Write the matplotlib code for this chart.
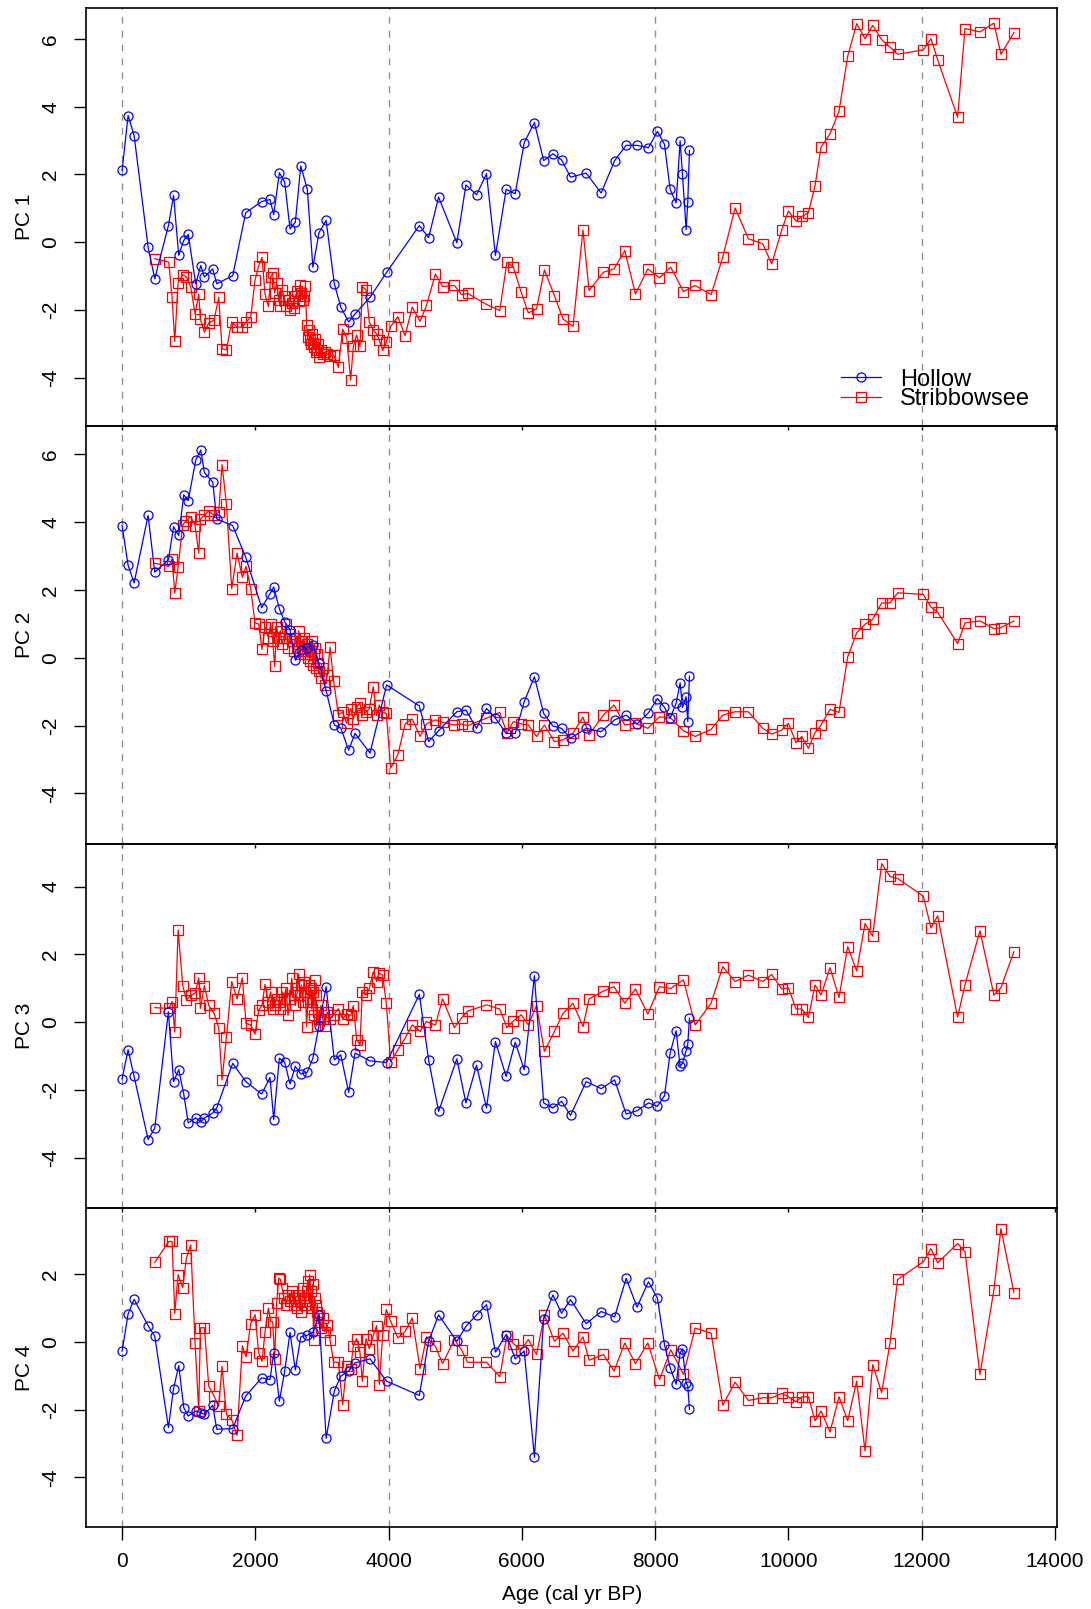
import matplotlib
matplotlib.use("Agg")
import matplotlib.pyplot as plt

plt.rcParams['font.family'] = ['Liberation Sans', 'DejaVu Sans']
plt.rcParams['axes.unicode_minus'] = False

# sample ages (cal yr BP)
hollow_age = [0, 90, 180, 390, 490, 695, 772, 850, 925, 992,
              1105, 1180, 1235, 1360, 1420, 1660, 1855, 2095, 2220, 2275,
              2360, 2440, 2520, 2600, 2681, 2780, 2863, 2955, 3062, 3185,
              3282, 3400, 3496, 3721, 3970, 4461, 4600, 4750, 5024, 5160,
              5319, 5469, 5603, 5764, 5900, 6035, 6188, 6327, 6465, 6595,
              6730, 6965, 7190, 7392, 7565, 7728, 7900, 8035, 8140, 8225,
              8315, 8375, 8410, 8465, 8490, 8515]

strib_age = [490, 700, 750, 790, 840, 910, 965, 1030, 1095, 1150,
             1175, 1235, 1300, 1380, 1450, 1500, 1565, 1645, 1725, 1805,
             1860, 1930, 1995, 2050, 2100, 2145, 2195, 2230, 2260, 2290,
             2320, 2350, 2375, 2400, 2430, 2460, 2490, 2520, 2545, 2575,
             2600, 2630, 2650, 2670, 2690, 2710, 2730, 2750, 2770, 2785,
             2800, 2815, 2830, 2845, 2860, 2875, 2890, 2905, 2920, 2940,
             2960, 2985, 3010, 3040, 3080, 3120, 3175, 3245, 3310, 3370,
             3430, 3470, 3520, 3570, 3605, 3660, 3710, 3770, 3820, 3860,
             3910, 3965,
             4030, 4139, 4247, 4354, 4472, 4568, 4702, 4810, 4987, 5094,
             5185, 5469, 5668, 5775, 5872, 5990, 6097, 6220, 6338, 6488,
             6617, 6767, 6917, 7008, 7223, 7383, 7544, 7705, 7890, 8065,
             8235, 8425, 8600, 8840, 9015, 9200, 9400, 9615, 9750, 9900,
             10000, 10115, 10200, 10300, 10400, 10490, 10625, 10760, 10890, 11025,
             11150, 11265, 11400, 11525, 11640, 12025, 12140, 12240, 12540, 12650,
             12875, 13085, 13190, 13385]

# Hollow PC scores
hollow_pc1 = [2.12, 3.74, 3.15, -0.15, -1.08, 0.49, 1.38, -0.39, 0.05, 0.23,
              -1.23, -0.69, -1.03, -0.79, -1.23, -0.99, 0.87, 1.20, 1.26, 0.81,
              2.05, 1.77, 0.39, 0.59, 2.25, 1.56, -0.74, 0.28, 0.64, -1.23,
              -1.92, -2.36, -2.12, -1.63, -0.89, 0.49, 0.13, 1.33, -0.02, 1.69,
              1.40, 2.02, -0.39, 1.56, 1.43, 2.94, 3.53, 2.41, 2.61, 2.43,
              1.92, 2.04, 1.45, 2.41, 2.86, 2.86, 2.79, 3.27, 2.89, 1.56,
              1.16, 2.99, 2.02, 0.37, 1.18, 2.71]
hollow_pc2 = [3.90, 2.73, 2.21, 4.20, 2.53, 2.89, 3.87, 3.61, 4.81, 4.64,
              5.83, 6.13, 5.47, 5.18, 4.10, 3.90, 2.97, 1.48, 1.89, 2.09,
              1.45, 1.06, 0.83, -0.07, 0.23, 0.29, 0.38, -0.16, -0.97, -1.98,
              -2.07, -2.72, -2.23, -2.81, -0.80, -1.42, -2.47, -2.15, -1.59, -1.54,
              -2.08, -1.49, -1.78, -2.23, -2.23, -1.29, -0.56, -1.64, -2.01, -2.08,
              -2.37, -2.08, -2.18, -1.83, -1.69, -1.95, -1.62, -1.20, -1.46, -1.78,
              -1.34, -0.74, -1.46, -1.15, -1.88, -0.54]
hollow_pc3 = [-1.67, -0.81, -1.60, -3.46, -3.12, 0.31, -1.75, -1.40, -2.12, -2.97,
              -2.82, -2.94, -2.82, -2.68, -2.53, -1.21, -1.75, -2.12, -1.63, -2.87,
              -1.06, -1.18, -1.82, -1.30, -1.53, -1.47, -1.06, -0.10, 1.05, -1.11,
              -0.96, -2.07, -0.91, -1.14, -1.19, 0.82, -1.11, -2.63, -1.08, -2.38,
              -1.27, -2.53, -0.57, -1.60, -0.59, -1.40, 1.37, -2.38, -2.53, -2.33,
              -2.75, -1.75, -1.96, -1.70, -2.71, -2.61, -2.38, -2.48, -2.17, -0.91,
              -0.25, -1.30, -1.21, -0.84, -0.65, 0.12]
hollow_pc4 = [-0.27, 0.83, 1.26, 0.48, 0.17, -2.53, -1.38, -0.70, -1.94, -2.19,
              -2.04, -2.09, -2.14, -1.87, -2.58, -2.56, -1.60, -1.06, -1.11, -0.32,
              -1.75, -0.86, 0.28, -0.83, 0.15, 0.20, 0.28, 0.80, -2.85, -1.45,
              -1.01, -0.86, -0.62, -0.50, -1.16, -1.58, 0.02, 0.80, 0.02, 0.46,
              0.80, 1.10, -0.30, 0.22, -0.50, -0.27, -3.41, 0.68, 1.39, 0.85,
              1.25, 0.54, 0.90, 0.74, 1.88, 1.03, 1.78, 1.29, -0.08, -0.76,
              -1.25, -0.32, -0.21, -1.21, -1.30, -1.99]

# Stribbowsee PC scores
strib_pc1 = [-0.49, -0.59, -1.63, -2.93, -1.21, -0.96, -1.03, -1.33, -2.12, -1.53,
             -2.27, -2.66, -2.39, -2.30, -1.63, -3.15, -3.18, -2.36, -2.51, -2.51,
             -2.36, -2.22, -1.12, -0.70, -0.45, -1.53, -1.90, -1.02, -0.92, -1.50,
             -1.20, -1.70, -1.90, -1.40, -1.60, -1.90, -1.70, -2.00, -1.80, -1.95,
             -1.60, -1.45, -1.75, -1.26, -1.50, -1.70, -1.60, -1.30, -2.45, -2.80,
             -2.60, -2.90, -3.00, -2.70, -2.99, -3.10, -2.85, -3.25, -3.18, -3.00,
             -3.38, -3.20, -3.30, -3.25, -3.30, -3.35, -3.33, -3.70, -2.57, -2.83,
             -4.07, -3.08, -2.74, -3.08, -1.31, -1.40, -2.36, -2.60, -2.71, -2.90,
             -3.20, -2.96,
             -2.49, -2.20, -2.76, -1.92, -2.34, -1.87, -0.94, -1.31, -1.28, -1.55,
             -1.51, -1.84, -2.02, -0.59, -0.74, -1.48, -2.09, -1.97, -0.82, -1.58,
             -2.27, -2.49, 0.36, -1.43, -0.89, -0.79, -0.25, -1.53, -0.79, -1.05,
             -0.74, -1.46, -1.28, -1.55, -0.44, 1.01, 0.10, -0.05, -0.64, 0.36,
             0.92, 0.62, 0.76, 0.87, 1.67, 2.81, 3.20, 3.87, 5.49, 6.45,
             6.01, 6.40, 5.98, 5.76, 5.55, 5.68, 6.01, 5.39, 3.69, 6.31,
             6.21, 6.47, 5.55, 6.19]
strib_pc2 = [2.79, 2.70, 2.92, 1.91, 2.68, 3.93, 4.05, 4.17, 3.90, 3.09,
             4.10, 4.20, 4.34, 4.20, 4.30, 5.70, 4.54, 2.04, 3.09, 2.38,
             2.70, 2.04, 1.03, 1.00, 0.25, 0.90, 0.60, 1.00, 0.50, -0.25,
             0.90, 0.60, 0.80, 0.40, 0.60, 1.00, 0.30, 0.70, 0.50, 0.20,
             0.60, 0.30, 0.80, 0.10, 0.50, 0.20, 0.60, 0.10, 0.40, 0.00,
             0.30, -0.10, 0.20, 0.50, -0.20, 0.10, 0.30, -0.30, 0.10, -0.16,
             -0.40, -0.60, -0.30, -0.80, -0.50, 0.32, -0.68, -1.68, -1.60, -1.93,
             -1.50, -1.80, -1.45, -1.34, -1.70, -1.60, -1.50, -0.85, -1.70, -1.39,
             -1.60, -1.64,
             -3.25, -2.86, -1.95, -1.80, -2.32, -1.95, -1.83, -1.90, -1.98, -1.95,
             -2.00, -1.78, -1.61, -2.22, -1.88, -1.95, -1.98, -2.32, -1.98, -2.47,
             -2.42, -2.22, -1.75, -2.27, -1.69, -1.39, -1.98, -1.93, -2.08, -1.74,
             -1.78, -2.15, -2.32, -2.11, -1.69, -1.59, -1.59, -2.08, -2.25, -2.13,
             -1.93, -2.50, -2.32, -2.67, -2.21, -1.98, -1.52, -1.61, 0.03, 0.74,
             0.99, 1.14, 1.62, 1.62, 1.92, 1.87, 1.50, 1.35, 0.42, 1.03,
             1.09, 0.86, 0.89, 1.09]
strib_pc3 = [0.43, 0.41, 0.61, -0.29, 2.72, 1.08, 0.66, 0.80, 0.85, 1.31,
             0.41, 1.08, 0.50, 0.26, -0.16, -1.70, -0.45, 1.20, 0.69, 1.31,
             -0.03, -0.08, -0.35, 0.36, 0.50, 1.12, 0.60, 0.90, 0.40, 0.50,
             0.70, 0.60, 0.40, 0.90, 0.70, 1.00, 0.20, 0.70, 1.30, 0.80,
             0.50, 0.90, 1.42, 0.80, 1.10, 0.60, 1.20, 0.90, -0.13, 0.60,
             1.10, 0.70, 1.00, 0.40, 0.90, 0.20, 1.24, 0.80, -0.10, 0.30,
             0.10, 0.50, 0.10, -0.10, 0.30, 0.10, 0.22, 0.40, 0.10, 0.25,
             0.20, 0.49, -0.51, -0.67, 0.90, 0.80, 1.00, 1.49, 1.20, 1.45,
             1.39, 0.56,
             -1.16, -0.81, -0.47, -0.08, -0.27, 0.02, -0.08, 0.69, -0.16, 0.12,
             0.33, 0.51, 0.39, -0.16, 0.04, 0.22, -0.08, 0.49, -0.86, -0.27,
             0.26, 0.56, -0.13, 0.69, 0.92, 1.05, 0.56, 0.98, 0.24, 1.05,
             1.00, 1.25, -0.08, 0.56, 1.64, 1.20, 1.39, 1.20, 1.41, 0.98,
             1.02, 0.39, 0.39, 0.14, 1.10, 0.80, 1.61, 0.73, 2.23, 1.51,
             2.91, 2.54, 4.68, 4.30, 4.24, 3.72, 2.78, 3.14, 0.15, 1.10,
             2.70, 0.80, 1.02, 2.08]
strib_pc4 = [2.35, 2.97, 2.97, 0.84, 1.99, 1.60, 2.48, 2.87, -0.03, -2.04,
             0.42, 0.42, -1.31, -1.60, -1.90, -0.72, -2.14, -2.30, -2.76, -0.11,
             -0.44, 0.54, 0.81, -0.32, -0.57, 0.30, 1.00, 0.60, 0.60, -0.50,
             1.15, 1.89, 1.85, 1.60, 1.30, 1.10, 1.40, 1.20, 1.50, 1.10,
             1.30, 1.00, 1.40, 1.20, 0.90, 1.60, 1.30, 1.10, 1.50, 1.80,
             1.20, 1.99, 1.50, 1.00, 1.70, 0.07, 1.30, 1.10, 0.90, 0.60,
             0.80, 0.40, 0.70, 0.30, 0.50, 0.07, -0.60, -0.60, -1.85, -0.70,
             -0.80, -0.11, 0.10, -0.30, -1.16, 0.10, -0.20, 0.20, 0.48, -1.26,
             0.20, 0.96,
             0.61, 0.12, 0.31, 0.71, -0.79, 0.15, -0.13, -0.64, 0.07, -0.23,
             -0.60, -0.60, -1.03, 0.19, -0.05, -0.23, 0.07, -0.37, 0.80, 0.02,
             0.26, -0.27, 0.15, -0.54, -0.37, -0.86, -0.03, -0.64, -0.03, -1.11,
             -0.23, -0.96, 0.41, 0.26, -1.87, -1.19, -1.73, -1.65, -1.65, -1.52,
             -1.62, -1.77, -1.62, -1.62, -2.33, -2.04, -2.66, -1.62, -2.33, -1.16,
             -3.22, -0.67, -1.50, -0.03, 1.85, 2.37, 2.76, 2.34, 2.91, 2.67,
             -0.96, 1.54, 3.35, 1.46]

hollow_pcs = [hollow_pc1, hollow_pc2, hollow_pc3, hollow_pc4]
strib_pcs = [strib_pc1, strib_pc2, strib_pc3, strib_pc4]
panel_labels = ["PC 1", "PC 2", "PC 3", "PC 4"]
ylims = [(-5.43, 6.91), (-5.48, 6.84), (-5.48, 5.27), (-5.47, 3.96)]
xticks = [0, 2000, 4000, 6000, 8000, 10000, 12000, 14000]
vlines = [0, 4000, 8000, 12000]

W, H = 1091, 1609
left_px, right_px = 86.4, 1057.3
edges_px = [8.2, 426, 843.6, 1208, 1527]

fig = plt.figure(figsize=(W / 100, H / 100), dpi=100)

axes = []
for i in range(4):
    top, bot = edges_px[i], edges_px[i + 1]
    ax = fig.add_axes([left_px / W, 1 - bot / H, (right_px - left_px) / W, (bot - top) / H])
    ax.set_facecolor('none')
    for v in vlines:
        ax.axvline(v, color='#909090', lw=1.0, ls=(0, (5, 5)), zorder=1)
    ax.plot(strib_age, strib_pcs[i], color='red', lw=0.9, marker='s', ms=6.5,
            mfc='none', mew=0.9, label='Stribbowsee', zorder=2)
    ax.plot(hollow_age, hollow_pcs[i], color='blue', lw=0.9, marker='o', ms=6.5,
            mfc='none', mew=0.9, label='Hollow', zorder=3)
    ax.set_xlim(-536, 14036)
    ax.set_ylim(*ylims[i])
    ax.set_xticks(xticks)
    ax.set_yticks([t for t in [-4, -2, 0, 2, 4, 6] if ylims[i][0] < t < ylims[i][1]])
    ax.tick_params(axis='y', labelrotation=90, labelsize=15, length=9, width=1, pad=10)
    for lab in ax.get_yticklabels():
        lab.set_va('center')
    if i < 3:
        ax.tick_params(axis='x', labelbottom=False, length=3, width=1)
    else:
        ax.tick_params(axis='x', labelsize=15, length=9, width=1, pad=9)
        ax.set_xlabel("Age (cal yr BP)", fontsize=15, labelpad=10)
    ax.set_ylabel(panel_labels[i], fontsize=15, labelpad=5)
    for s in ax.spines.values():
        s.set_linewidth(1.2)
    axes.append(ax)

h, l = axes[0].get_legend_handles_labels()
axes[0].legend(h[::-1], l[::-1], loc='lower right', bbox_to_anchor=(0.982, 0.015),
               frameon=False, fontsize=17, handlelength=1.7, handletextpad=0.8,
               labelspacing=-0.1, borderaxespad=0)

fig.savefig("out.png", dpi=100)
